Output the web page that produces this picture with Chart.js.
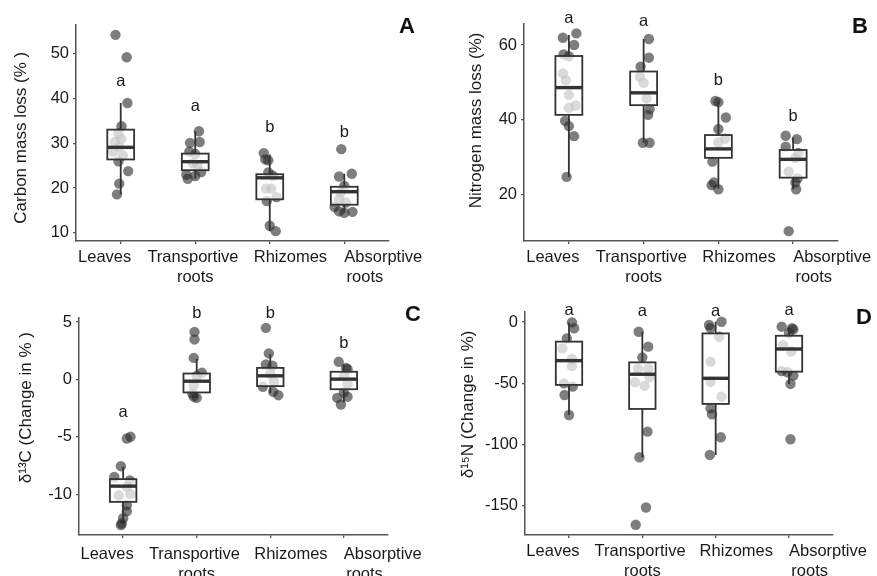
<!DOCTYPE html>
<html>
<head>
<meta charset="utf-8">
<script src="https://cdn.jsdelivr.net/npm/chart.js@4.4.1/dist/chart.umd.min.js"></script>
<style>
  body { margin: 0; background: #fff; }
  #wrap { position: relative; width: 877px; height: 576px; overflow: hidden; }
  canvas { position: absolute; }
</style>
</head>
<body>
<div id="wrap">
  <canvas id="panelA" width="437" height="288" style="left:0;top:0"></canvas>
  <canvas id="panelB" width="440" height="288" style="left:437px;top:0"></canvas>
  <canvas id="panelC" width="437" height="288" style="left:0;top:288px"></canvas>
  <canvas id="panelD" width="440" height="288" style="left:437px;top:288px"></canvas>
</div>
<script>
const categories = [["Leaves"], ["Transportive", "roots"], ["Rhizomes"], ["Absorptive", "roots"]];

// A: carbon mass loss (%)
const carbonValues = [
  [54.2, 49.2, 39.0, 33.8, 32.2, 31.0, 30.3, 29.2, 28.1, 27.3, 26.0, 23.8, 21.0, 18.6],
  [32.7, 30.3, 30.1, 28.1, 27.6, 25.5, 25.1, 23.6, 23.0, 22.7, 22.1],
  [27.8, 26.4, 26.2, 23.5, 22.8, 19.9, 19.9, 18.0, 17.1, 11.6, 10.4],
  [28.7, 23.2, 22.6, 20.5, 19.0, 17.5, 16.8, 15.8, 14.8, 14.5, 14.7]
];
const carbonJitter = [
  [-0.07, 0.08, 0.09, 0.01, -0.03, 0.01, -0.08, -0.02, -0.1, 0.03, -0.03, 0.1, -0.02, -0.05],
  [0.05, 0.06, -0.07, -0.08, 0, -0.03, 0.03, 0.08, -0.12, 0, -0.1],
  [-0.08, -0.06, -0.02, -0.02, 0.04, -0.05, 0.02, 0.09, -0.04, 0, 0.08],
  [-0.04, 0.1, -0.07, 0, -0.05, -0.07, 0.02, -0.13, -0.07, 0, 0.11]
];
// [lower whisker, Q1, median, Q3, upper whisker]
const carbonBoxes = [[18.6, 26.4, 29.1, 33.05, 39.0], [22.1, 24.0, 25.9, 27.7, 32.7], [10.4, 17.5, 22.3, 23.1, 27.5], [14.5, 16.3, 19.2, 20.3, 23.2]];
const carbonLetters = ["a", "a", "b", "b"];
const carbonLetterY = [43.7, 38.3, 33.6, 32.5];
const carbonTicks = [10, 20, 30, 40, 50];

// B: nitrogen mass loss (%)
const nitrogenValues = [
  [63.1, 61.95, 60.0, 57.5, 57.0, 52.4, 50.6, 46.6, 43.8, 43.2, 39.7, 38.3, 35.6, 24.7],
  [61.6, 56.6, 54.2, 51.5, 49.9, 45.7, 42.8, 41.3, 33.85, 33.85],
  [45.0, 44.7, 40.6, 37.5, 34.9, 33.9, 28.8, 23.2, 22.5, 21.4],
  [35.7, 34.8, 32.8, 31.1, 29.8, 26.1, 24.3, 23.2, 21.4, 10.2]
];
const nitrogenJitter = [
  [0.1, -0.08, 0.07, -0.07, 0, -0.08, -0.04, 0, 0.09, 0, -0.05, 0, 0.07, -0.03],
  [0.07, 0.07, -0.04, -0.05, 0, 0.04, 0.08, 0.06, -0.01, 0.08],
  [-0.04, 0, 0.1, 0, 0.09, 0, -0.08, -0.06, -0.09, 0],
  [-0.1, 0.05, -0.1, 0.07, 0.03, -0.06, 0.06, 0.03, 0.04, -0.06]
];
const nitrogenBoxes = [[24.7, 41.3, 48.6, 57.05, 62.7], [33.85, 43.9, 47.2, 52.9, 61.6], [21.5, 29.8, 32.2, 35.9, 45.0], [21.4, 24.5, 29.4, 31.9, 35.2]];
const nitrogenLetters = ["a", "a", "b", "b"];
const nitrogenLetterY = [67.0, 66.4, 50.6, 40.8];
const nitrogenTicks = [20, 40, 60];

// C: d13C (change in %)
const d13cValues = [
  [-5.0, -5.15, -7.56, -8.5, -8.8, -9.36, -10.0, -10.1, -10.96, -11.5, -12.1, -12.56, -12.7],
  [4.15, 3.49, 1.88, 0.58, 0.3, -0.5, -1.22, -1.5, -1.6],
  [4.5, 2.27, 1.3, 1.2, 0.5, -0.2, -0.64, -1.08, -1.37],
  [1.54, 1.0, 0.9, 0.3, -0.4, -1.13, -1.5, -1.6, -2.18]
];
const d13cJitter = [
  [0.1, 0.05, -0.03, -0.12, 0.09, 0.05, 0.1, -0.06, 0.05, 0.05, 0, -0.02, -0.03],
  [-0.03, -0.03, -0.04, 0.07, 0, -0.04, -0.06, -0.04, 0],
  [-0.06, -0.02, -0.06, 0.03, 0, 0.05, -0.1, 0.04, 0.11],
  [-0.07, 0.03, 0.05, 0, 0.05, 0, 0.05, -0.09, -0.04]
];
const d13cBoxes = [[-12.6, -10.67, -9.3, -8.69, -7.6], [-1.6, -1.13, -0.15, 0.52, 1.8], [-1.2, -0.58, 0.32, 1.01, 2.2], [-2.0, -0.85, 0.03, 0.67, 1.3]];
const d13cLetters = ["a", "b", "b", "b"];
const d13cLetterY = [-2.9, 5.8, 5.8, 3.1];
const d13cTicks = [-10, -5, 0, 5];

// D: d15N (change in %)
const d15nValues = [
  [-0.3, -5.1, -13.3, -21.5, -30, -36, -50, -52.7, -59.5, -75.8],
  [-7.9, -20.1, -28.8, -38, -38, -49, -52, -45, -89.4, -110.3, -151.3, -165.4],
  [0.2, -2.4, -5, -12, -32.3, -48.7, -60.9, -70.4, -75.3, -94, -108.4],
  [-3.8, -5, -6, -9, -19, -24, -40, -41, -43.7, -50.5, -95.6]
];
const d15nJitter = [
  [0.04, 0.07, -0.03, -0.09, 0.04, 0.04, -0.07, 0.05, -0.06, 0],
  [-0.05, 0.08, 0, -0.06, 0.08, -0.1, 0.03, 0.1, 0.07, -0.04, 0.05, -0.09],
  [0.08, -0.09, -0.07, 0.05, -0.07, -0.07, 0.08, -0.07, -0.05, 0.07, -0.08],
  [-0.1, 0.04, 0.06, 0, -0.08, 0.03, -0.1, -0.02, 0.06, 0.02, 0.02]
];
const d15nBoxes = [[-75.8, -51.3, -31.5, -16.0, -0.3], [-110.3, -70.9, -42.6, -32.9, -7.9], [-108.4, -66.8, -45.9, -9.3, 0.2], [-50.5, -40.5, -22, -11.2, -3.8]];
const d15nLetters = ["a", "a", "a", "a"];
const d15nLetterY = [9.5, 8.5, 9.0, 9.5];
const d15nTicks = [-150, -100, -50, 0];

// label nudges (px) so the x labels sit like the original figure
const labelShift = [[-16.5], [-3, 0], [19.5], [39.5, 20]];
const TICK_FONT = 16.5;
const TITLE_FONT = 17;
const BOX_HALF = 0.18;
const INK = "#1a1a1a";
const AXIS = "#555";

// shift a line sideways by padding it with spaces (negative = left)
function padLine(text, shift, size) {
  const pad = " ".repeat(Math.round(Math.abs(shift) * 2 / (0.278 * size)));
  return shift < 0 ? text + pad : pad + text;
}

function boxPlugin(boxes, letters, letterY, tag, tagX, tagY) {
  return {
    id: "boxes",
    afterDatasetsDraw(chart) {
      const { ctx, scales: { x, y } } = chart;
      ctx.save();
      boxes.forEach((b, i) => {
        const cx = x.getPixelForValue(i + 1);
        const hw = x.getPixelForValue(i + 1 + BOX_HALF) - cx;
        const [lo, q1, med, q3, hi] = b.map(v => y.getPixelForValue(v));
        ctx.strokeStyle = "#333";
        ctx.lineWidth = 1.8;
        ctx.beginPath();
        ctx.moveTo(cx, q3); ctx.lineTo(cx, hi);
        ctx.moveTo(cx, q1); ctx.lineTo(cx, lo);
        ctx.stroke();
        ctx.fillStyle = "rgba(255,255,255,0.72)";
        ctx.fillRect(cx - hw, q3, hw * 2, q1 - q3);
        ctx.strokeRect(cx - hw, q3, hw * 2, q1 - q3);
        ctx.lineWidth = 3.4;
        ctx.beginPath();
        ctx.moveTo(cx - hw, med); ctx.lineTo(cx + hw, med);
        ctx.stroke();
        ctx.fillStyle = INK;
        ctx.font = TICK_FONT + "px 'Liberation Sans', Arial, sans-serif";
        ctx.textAlign = "center";
        ctx.textBaseline = "middle";
        ctx.fillText(letters[i], cx, y.getPixelForValue(letterY[i]));
      });
      ctx.font = "bold 22px 'Liberation Sans', Arial, sans-serif";
      ctx.fillStyle = "#111";
      ctx.textAlign = "center";
      ctx.textBaseline = "middle";
      ctx.fillText(tag, tagX, tagY);
      ctx.restore();
    }
  };
}

function makePanel(id, cfg) {
  const points = [];
  cfg.values.forEach((vals, i) => {
    vals.forEach((v, j) => points.push({ x: i + 1 + cfg.jitter[i][j], y: v }));
  });
  const canvas = document.getElementById(id);
  return new Chart(canvas, {
    type: "scatter",
    data: {
      datasets: [{
        data: points,
        pointRadius: 5.2,
        pointBackgroundColor: "rgba(40,40,40,0.6)",
        pointBorderWidth: 0
      }]
    },
    options: {
      responsive: false,
      animation: false,
      events: [],
      clip: false,
      layout: {
        autoPadding: false,
        padding: { left: 0, bottom: 0, top: cfg.area.top, right: canvas.width - cfg.area.right }
      },
      plugins: { legend: { display: false }, tooltip: { enabled: false } },
      scales: {
        x: {
          type: "linear",
          min: 0.4,
          max: 4.6,
          afterBuildTicks: s => { s.ticks = categories.map((c, i) => ({ value: i + 1 })); },
          afterFit: s => { s.height = canvas.height - cfg.area.bottom; s.paddingLeft = 0; s.paddingRight = 0; },
          ticks: {
            autoSkip: false,
            maxRotation: 0,
            minRotation: 0,
            padding: cfg.xPad,
            color: INK,
            font: { family: "'Liberation Sans', Arial, sans-serif", size: TICK_FONT, lineHeight: 1.2 },
            callback: v => categories[v - 1].map((t, k) => padLine(t, labelShift[v - 1][k], TICK_FONT))
          },
          grid: { drawOnChartArea: false, drawTicks: true, tickLength: 3, color: AXIS, lineWidth: 1.3 },
          border: { display: true, color: AXIS, width: 1.5 }
        },
        y: {
          min: cfg.range[0],
          max: cfg.range[1],
          afterBuildTicks: s => { s.ticks = cfg.ticks.map(v => ({ value: v })); },
          afterFit: s => { s.width = cfg.area.left; s.paddingTop = 0; s.paddingBottom = 0; },
          ticks: {
            padding: 4,
            color: INK,
            font: { family: "'Liberation Sans', Arial, sans-serif", size: TICK_FONT }
          },
          grid: { drawOnChartArea: false, drawTicks: true, tickLength: 3, color: AXIS, lineWidth: 1.3 },
          border: { display: true, color: AXIS, width: 1.5 },
          title: {
            display: true,
            // rotated text: positive shift moves it up the axis
            text: padLine(cfg.title, cfg.titleShift, TITLE_FONT),
            color: INK,
            padding: { top: cfg.titleX - TITLE_FONT * 0.6, bottom: 0 },
            font: { family: "'Liberation Sans', Arial, sans-serif", size: TITLE_FONT, lineHeight: 1.2 }
          }
        }
      }
    },
    plugins: [boxPlugin(cfg.boxes, cfg.letters, cfg.letterY, cfg.tag, cfg.tagX, cfg.tagY)]
  });
}

makePanel("panelA", {
  values: carbonValues, jitter: carbonJitter, boxes: carbonBoxes,
  letters: carbonLetters, letterY: carbonLetterY, ticks: carbonTicks,
  range: [8.2, 56.4], title: "Carbon mass loss (% )",
  area: { left: 76, right: 389, top: 25, bottom: 241 }, titleX: 21.7, titleShift: -5, xPad: 4,
  tag: "A", tagX: 407, tagY: 27
});
makePanel("panelB", {
  values: nitrogenValues, jitter: nitrogenJitter, boxes: nitrogenBoxes,
  letters: nitrogenLetters, letterY: nitrogenLetterY, ticks: nitrogenTicks,
  range: [7.55, 65.75], title: "Nitrogen mass loss (%)",
  area: { left: 87, right: 401, top: 23.5, bottom: 241 }, titleX: 39.3, titleShift: 12, xPad: 4,
  tag: "B", tagX: 423, tagY: 27
});
makePanel("panelC", {
  values: d13cValues, jitter: d13cJitter, boxes: d13cBoxes,
  letters: d13cLetters, letterY: d13cLetterY, ticks: d13cTicks,
  range: [-13.56, 5.36], title: "δ¹³C (Change in % )",
  area: { left: 79, right: 388, top: 30, bottom: 247 }, titleX: 26.7, titleShift: 19, xPad: 7,
  tag: "C", tagX: 413, tagY: 26.5
});
makePanel("panelD", {
  values: d15nValues, jitter: d15nJitter, boxes: d15nBoxes,
  letters: d15nLetters, letterY: d15nLetterY, ticks: d15nTicks,
  range: [-173.7, 8.5], title: "δ¹⁵N (Change in %)",
  area: { left: 88, right: 396, top: 23.6, bottom: 247 }, titleX: 31.7, titleShift: 19, xPad: 4,
  tag: "D", tagX: 427, tagY: 30
});
</script>
</body>
</html>
